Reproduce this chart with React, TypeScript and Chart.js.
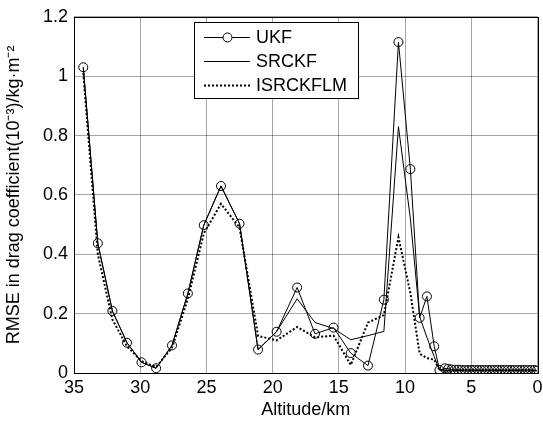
import React, { useEffect, useRef } from 'react';
import { Chart, registerables } from 'chart.js';

Chart.register(...registerables);

// Altitude (km) of each sample
const altitudes = [
  34.3, 33.2, 32.1, 31.0, 29.9, 28.8, 27.6, 26.4, 25.2, 23.9, 22.5, 21.1, 19.7, 18.15, 16.8,
  15.4, 14.1, 12.8, 11.6, 10.5, 9.6, 8.9, 8.35, 7.8, 7.4,
  7.0, 6.75, 6.5, 6.25, 6.0, 5.75, 5.5, 5.25, 5.0, 4.75, 4.5, 4.25, 4.0, 3.75, 3.5, 3.25,
  3.0, 2.75, 2.5, 2.25, 2.0, 1.75, 1.5, 1.25, 1.0, 0.75, 0.5, 0.25, 0.05,
];

const ukf = [
  1.03, 0.437, 0.209, 0.102, 0.036, 0.016, 0.093, 0.268, 0.498, 0.63, 0.503, 0.079, 0.139, 0.288, 0.132,
  0.153, 0.067, 0.025, 0.247, 1.115, 0.687, 0.186, 0.258, 0.09, 0.01,
  0.016, 0.014, 0.012, 0.011, 0.011, 0.01, 0.01, 0.01, 0.01, 0.01, 0.01, 0.01, 0.01, 0.01, 0.01, 0.01,
  0.01, 0.01, 0.01, 0.01, 0.01, 0.01, 0.01, 0.01, 0.01, 0.01, 0.01, 0.01, 0.008,
];

const srckf = [
  1.03, 0.437, 0.209, 0.102, 0.036, 0.016, 0.093, 0.268, 0.498, 0.63, 0.503, 0.079, 0.14, 0.25, 0.17,
  0.15, 0.112, 0.126, 0.14, 0.83, 0.52, 0.19, 0.12, 0.055, 0.01,
  0.01, 0.009, 0.009, 0.009, 0.009, 0.009, 0.009, 0.009, 0.009, 0.009, 0.009, 0.009, 0.009, 0.009, 0.009, 0.009,
  0.009, 0.009, 0.009, 0.009, 0.009, 0.009, 0.009, 0.009, 0.009, 0.009, 0.009, 0.009, 0.008,
];

const isrckflm = [
  1.01, 0.4, 0.18, 0.09, 0.04, 0.02, 0.085, 0.25, 0.47, 0.57, 0.49, 0.125, 0.11, 0.155, 0.12,
  0.126, 0.027, 0.17, 0.195, 0.457, 0.27, 0.065, 0.05, 0.045, 0.01,
  0.008, 0.008, 0.008, 0.008, 0.008, 0.008, 0.008, 0.008, 0.008, 0.008, 0.008, 0.008, 0.008, 0.008, 0.008, 0.008,
  0.008, 0.008, 0.008, 0.008, 0.008, 0.008, 0.008, 0.008, 0.008, 0.008, 0.008, 0.008, 0.008,
];

const seriesLabels = ['UKF', 'SRCKF', 'ISRCKFLM'];
const xTickValues = [0, 5, 10, 15, 20, 25, 30, 35];
const yTickValues = [0, 0.2, 0.4, 0.6, 0.8, 1, 1.2];
const yTickLabels = ['0', '0.2', '0.4', '0.6', '0.8', '1', '1.2'];
const xTitle = 'Altitude/km';
const yTitle = 'RMSE in drag coefficient(10\u207B\u00B3)/kg\u00B7m\u207B\u00B2';

const FONT = "'Liberation Sans', Arial, Helvetica, sans-serif";

const toPoints = (vals: number[]) => vals.map((v, i) => ({ x: altitudes[i], y: v }));

const boxPlugin = {
  id: 'boxPlugin',
  afterDraw(chart: any) {
    const { ctx, chartArea } = chart;
    ctx.save();
    ctx.strokeStyle = '#000';
    ctx.lineWidth = 1;
    ctx.strokeRect(
      Math.round(chartArea.left) + 0.5,
      Math.round(chartArea.top) + 0.5,
      Math.round(chartArea.right - chartArea.left),
      Math.round(chartArea.bottom - chartArea.top)
    );
    // legend box
    const lx = 194.5, ly = 22.5, lw = 164, lh = 76;
    ctx.fillStyle = '#fff';
    ctx.fillRect(lx, ly, lw, lh);
    ctx.strokeRect(lx, ly, lw, lh);
    ctx.font = `18px ${FONT}`;
    ctx.textBaseline = 'middle';
    ctx.textAlign = 'left';
    chart.data.datasets.forEach((ds: any, i: number) => {
      const y = 37 + i * 24 + 0.5;
      ctx.save();
      ctx.strokeStyle = '#000';
      ctx.lineWidth = ds.borderWidth;
      ctx.setLineDash(ds.borderDash || []);
      ctx.beginPath();
      ctx.moveTo(204, y);
      ctx.lineTo(250, y);
      ctx.stroke();
      ctx.restore();
      if (ds.pointRadius > 0) {
        ctx.beginPath();
        ctx.fillStyle = '#fff';
        ctx.arc(227.5, y, ds.pointRadius, 0, Math.PI * 2);
        ctx.fill();
        ctx.lineWidth = 1;
        ctx.stroke();
      }
      ctx.fillStyle = '#000';
      ctx.fillText(ds.label, 256, y + 1);
    });
    ctx.restore();
  },
};

export default function App() {
  const canvasRef = useRef<HTMLCanvasElement | null>(null);

  useEffect(() => {
    document.body.style.margin = '0';
    const canvas = canvasRef.current;
    if (!canvas) return;
    const chart = new Chart(canvas, {
      type: 'line',
      data: {
        datasets: [
          {
            label: seriesLabels[0],
            data: toPoints(ukf),
            borderColor: '#000',
            borderWidth: 1,
            pointRadius: 4.5,
            pointStyle: 'circle',
            pointBackgroundColor: 'rgba(0,0,0,0)',
            pointBorderColor: '#000',
            pointBorderWidth: 1,
            tension: 0,
            fill: false,
          },
          {
            label: seriesLabels[1],
            data: toPoints(srckf),
            borderColor: '#000',
            borderWidth: 1,
            pointRadius: 0,
            tension: 0,
            fill: false,
          },
          {
            label: seriesLabels[2],
            data: toPoints(isrckflm),
            borderColor: '#000',
            borderWidth: 2,
            borderDash: [2, 2],
            pointRadius: 0,
            tension: 0,
            fill: false,
          },
        ],
      },
      options: {
        animation: false,
        responsive: false,
        maintainAspectRatio: false,
        events: [],
        layout: { padding: { top: 11, right: 5, left: 0, bottom: 0 } },
        plugins: {
          legend: { display: false },
          tooltip: { enabled: false },
        },
        scales: {
          x: {
            type: 'linear',
            reverse: true,
            min: 0,
            max: 35,
            afterFit: (scale: any) => {
              scale.height = 50;
            },
            afterBuildTicks: (scale: any) => {
              scale.ticks = xTickValues.map((v) => ({ value: v }));
            },
            ticks: {
              color: '#000',
              font: { family: FONT, size: 18 },
              padding: 4,
              maxRotation: 0,
            },
            grid: { color: 'rgba(0,0,0,0.35)', drawTicks: false, lineWidth: 1 },
            border: { display: false },
            title: {
              display: true,
              text: xTitle,
              color: '#000',
              font: { family: FONT, size: 18 },
              padding: { top: 0, bottom: 2 },
            },
          },
          y: {
            type: 'linear',
            min: 0,
            max: 1.2,
            afterFit: (scale: any) => {
              scale.width = 74;
            },
            afterBuildTicks: (scale: any) => {
              scale.ticks = yTickValues.map((v) => ({ value: v }));
            },
            ticks: {
              color: '#000',
              font: { family: FONT, size: 18 },
              padding: 6,
              callback: (_v: any, i: number) => yTickLabels[i],
            },
            grid: { color: 'rgba(0,0,0,0.35)', drawTicks: false, lineWidth: 1 },
            border: { display: false },
            title: {
              display: true,
              text: yTitle,
              color: '#000',
              font: { family: FONT, size: 18 },
              padding: { top: 3, bottom: 0 },
            },
          },
        },
      },
      plugins: [boxPlugin],
    } as any);
    return () => chart.destroy();
  }, []);

  return (
    <div style={{ position: 'absolute', left: 0, top: 0, width: 543, height: 423, background: '#fff' }}>
      <canvas ref={canvasRef} width={543} height={423} style={{ width: 543, height: 423, display: 'block' }} />
    </div>
  );
}
